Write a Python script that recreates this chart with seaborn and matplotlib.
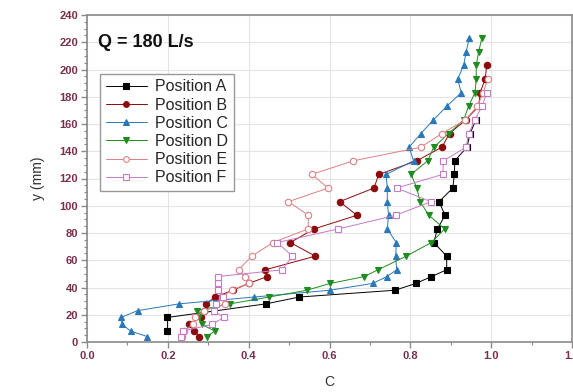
import numpy as np
import pandas as pd
import matplotlib
matplotlib.use("Agg")
import matplotlib.pyplot as plt
import seaborn as sns
from matplotlib.ticker import MultipleLocator, FormatStrFormatter

# ---- data ----
y_A = [8, 18, 28, 33, 38, 43, 48, 53, 63, 73, 83, 93, 103, 113, 123, 133, 143, 153, 163]
c_A = [0.199, 0.199, 0.443, 0.525, 0.762, 0.814, 0.852, 0.890, 0.890, 0.858, 0.867, 0.886,
       0.871, 0.905, 0.909, 0.910, 0.940, 0.948, 0.962]

y_B = [4, 8, 13, 18, 23, 28, 33, 38, 43, 48, 53, 63, 73, 83, 93, 103, 113, 123, 133, 143,
       153, 163, 173, 183, 193, 203]
c_B = [0.278, 0.265, 0.252, 0.282, 0.290, 0.295, 0.317, 0.361, 0.400, 0.446, 0.441, 0.565,
       0.503, 0.562, 0.668, 0.625, 0.710, 0.722, 0.816, 0.878, 0.897, 0.937, 0.969, 0.973,
       0.985, 0.989]

y_C = [4, 8, 13, 18, 23, 28, 33, 38, 43, 48, 53, 63, 73, 83, 93, 103, 113, 123, 133, 143,
       153, 163, 173, 183, 193, 203, 213, 223]
c_C = [0.149, 0.108, 0.087, 0.084, 0.125, 0.228, 0.413, 0.601, 0.707, 0.742, 0.766, 0.764,
       0.765, 0.743, 0.746, 0.743, 0.743, 0.740, 0.808, 0.797, 0.826, 0.857, 0.890, 0.926,
       0.917, 0.932, 0.938, 0.946]

y_D = [4, 8, 13, 18, 23, 28, 33, 38, 43, 48, 53, 63, 73, 83, 93, 103, 113, 123, 133, 143,
       153, 163, 173, 183, 193, 203, 213, 223]
c_D = [0.296, 0.316, 0.284, 0.278, 0.271, 0.354, 0.450, 0.544, 0.602, 0.686, 0.720, 0.790,
       0.852, 0.885, 0.846, 0.824, 0.816, 0.802, 0.843, 0.858, 0.895, 0.932, 0.944, 0.960,
       0.963, 0.963, 0.969, 0.977]

y_E = [4, 8, 13, 18, 23, 28, 33, 38, 43, 48, 53, 63, 73, 83, 93, 103, 113, 123, 133, 143,
       153, 163, 173, 183, 193]
c_E = [0.235, 0.240, 0.262, 0.267, 0.290, 0.342, 0.333, 0.358, 0.400, 0.390, 0.375, 0.408,
       0.460, 0.547, 0.548, 0.498, 0.597, 0.556, 0.659, 0.826, 0.878, 0.936, 0.966, 0.980,
       0.992]

y_F = [4, 8, 13, 18, 23, 28, 33, 38, 43, 48, 53, 63, 73, 83, 93, 103, 113, 123, 133, 143,
       153, 163, 173, 183]
c_F = [0.232, 0.237, 0.310, 0.338, 0.314, 0.320, 0.336, 0.325, 0.325, 0.323, 0.483, 0.508,
       0.471, 0.622, 0.764, 0.851, 0.766, 0.880, 0.882, 0.938, 0.944, 0.960, 0.977, 0.990]

labels = ["Position A", "Position B", "Position C", "Position D", "Position E", "Position F"]
title_text = "Q = 180 L/s"

series = [(c_A, y_A), (c_B, y_B), (c_C, y_C), (c_D, y_D), (c_E, y_E), (c_F, y_F)]
colors = ["#000000", "#8b0a0a", "#2a78b8", "#1f8c1f", "#e07f86", "#c47ac8"]
markers = ["s", "o", "^", "v", "o", "s"]
filled = [True, True, True, True, False, False]

sns.set_theme(style="white")
plt.rcParams['font.family'] = ['Liberation Sans', 'DejaVu Sans']

fig = plt.figure(figsize=(5.73, 3.92), dpi=100)
ax = fig.add_axes([87/573, 50/392, 485/573, 327/392])

for (cx, cy), lab, col, mk, fl in zip(series, labels, colors, markers, filled):
    df = pd.DataFrame({"C": cx, "y": cy})
    sns.lineplot(data=df, x="C", y="y", sort=False, estimator=None, ax=ax,
                 color=col, linewidth=0.7, marker=mk, markersize=4.6,
                 markerfacecolor=(col if fl else "white"), markeredgecolor=col,
                 markeredgewidth=0.8, label=lab)

ax.set_xlim(0, 1.2)
ax.set_ylim(0, 240)
ax.xaxis.set_major_locator(MultipleLocator(0.2))
ax.xaxis.set_minor_locator(MultipleLocator(0.1))
ax.yaxis.set_major_locator(MultipleLocator(20))
ax.yaxis.set_minor_locator(MultipleLocator(5))
ax.xaxis.set_major_formatter(FormatStrFormatter("%.1f"))

ax.grid(True, which="major", color="#e4e4e4", linewidth=0.8)
ax.set_axisbelow(True)
for s in ax.spines.values():
    s.set_color("#8a8a8a")
    s.set_linewidth(1.2)

tick_col = "#7a2f4c"
ax.tick_params(axis="both", which="major", direction="out", length=4, width=1,
               color="#8a8a8a", labelsize=8, labelcolor=tick_col, pad=2.5,
               bottom=True, left=True)
ax.tick_params(axis="both", which="minor", direction="out", length=2, width=0.8,
               color="#8a8a8a", bottom=True, left=True)
for lbl in ax.get_xticklabels() + ax.get_yticklabels():
    lbl.set_fontweight("bold")

ax.set_xlabel("C", fontsize=10, color="#333333", labelpad=10)
ax.set_ylabel("y (mm)", fontsize=10, color="#333333", labelpad=10)

ax.text(0.023, 0.902, title_text, transform=ax.transAxes, fontsize=13,
        fontweight="bold", color="#111111", ha="left", va="baseline")

leg = ax.legend(loc="upper left", bbox_to_anchor=(0.027, 0.82), fontsize=11.5,
                frameon=True, fancybox=False, edgecolor="#999999", framealpha=1,
                handlelength=2.6, handletextpad=0.5, labelspacing=0.2,
                borderpad=0.35, borderaxespad=0, markerscale=0.9)
leg.get_frame().set_linewidth(1.0)

fig.savefig("out.png", dpi=100)
